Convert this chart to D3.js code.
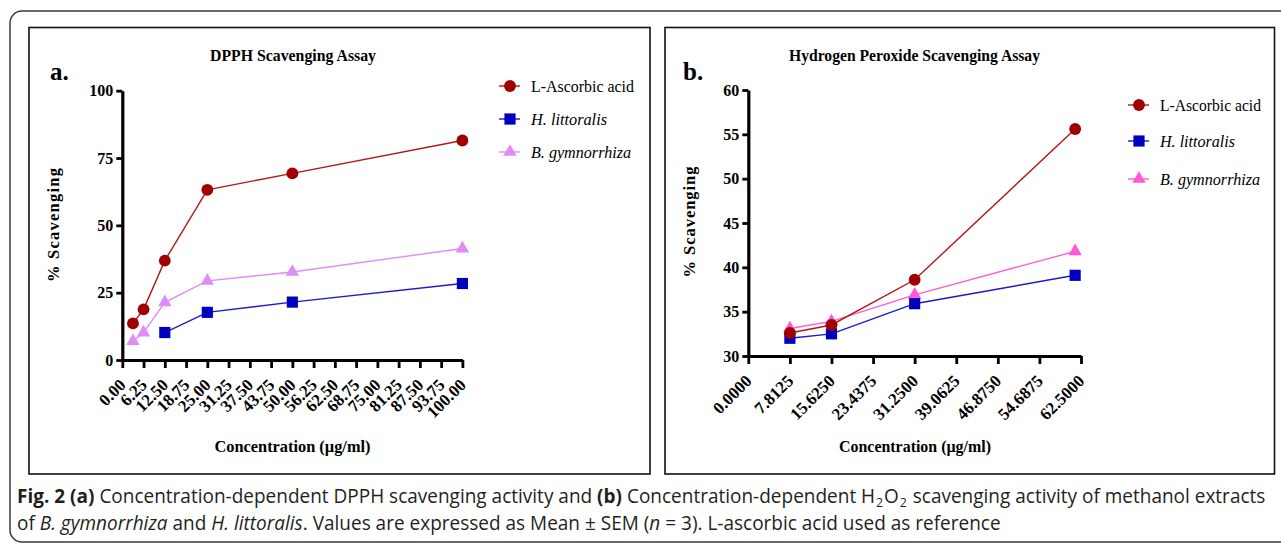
<!DOCTYPE html>
<html>
<head>
<meta charset="utf-8">
<script src="https://cdn.jsdelivr.net/npm/d3@7"></script>
<style>
  html, body { margin: 0; padding: 0; background: #ffffff; }
  svg { display: block; }
</style>
</head>
<body>
<svg id="chart" width="1281" height="544"></svg>
<script>
// ---------------- DATA ----------------
// Panel a: DPPH scavenging assay
const dpphTicks = [0, 6.25, 12.5, 18.75, 25, 31.25, 37.5, 43.75, 50, 56.25, 62.5, 68.75, 75, 81.25, 87.5, 93.75, 100];
const dpphYTicks = [0, 25, 50, 75, 100];
const dpphConcAscorbic = [3.125, 6.25, 12.5, 25, 50, 100];
const dpphAscorbic = [13.6, 18.8, 36.9, 63.2, 69.3, 81.5];
const dpphConcLittoralis = [12.5, 25, 50, 100];
const dpphLittoralis = [10.2, 17.7, 21.5, 28.4];
const dpphConcGymnorrhiza = [3.125, 6.25, 12.5, 25, 50, 100];
const dpphGymnorrhiza = [7.0, 10.2, 21.4, 29.4, 32.7, 41.4];

// Panel b: hydrogen peroxide scavenging assay
const h2o2Ticks = [0, 7.8125, 15.625, 23.4375, 31.25, 39.0625, 46.875, 54.6875, 62.5];
const h2o2YTicks = [30, 35, 40, 45, 50, 55, 60];
const h2o2Conc = [7.8125, 15.625, 31.25, 61.4];
const h2o2Ascorbic = [32.6, 33.5, 38.6, 55.6];
const h2o2Littoralis = [32.0, 32.5, 35.9, 39.1];
const h2o2Gymnorrhiza = [33.1, 33.9, 36.9, 41.8];

const seriesNames = ["L-Ascorbic acid", "H. littoralis", "B. gymnorrhiza"];

// ---------------- DRAW ----------------
const svg = d3.select("#chart");
const FONT = '"Liberation Serif", "Times New Roman", serif';

// outer rounded frame
svg.append("rect")
  .attr("x", 10).attr("y", 11).attr("width", 1300).attr("height", 531)
  .attr("rx", 12).attr("fill", "none").attr("stroke", "#3a3a3a").attr("stroke-width", 1.5);

function markerPath(shape, size) {
  if (shape === "circle") return d3.symbol(d3.symbolCircle, size)();
  if (shape === "square") return d3.symbol(d3.symbolSquare, size)();
  return d3.symbol(d3.symbolTriangle, size)();
}

function panel(cfg) {
  const g = svg.append("g");
  // panel frame
  g.append("rect")
    .attr("x", cfg.box[0]).attr("y", cfg.box[1]).attr("width", cfg.box[2]).attr("height", cfg.box[3])
    .attr("fill", "none").attr("stroke", "#111").attr("stroke-width", 1.6);

  const x = d3.scaleLinear().domain(cfg.xDomain).range(cfg.xRange);
  const y = d3.scaleLinear().domain(cfg.yDomain).range(cfg.yRange);

  // title
  g.append("text").attr("x", cfg.titleX).attr("y", 61)
    .attr("text-anchor", "middle").attr("font-family", FONT).attr("font-weight", "bold")
    .attr("font-size", 17).attr("fill", "#000")
    .attr("textLength", cfg.titleW).attr("lengthAdjust", "spacingAndGlyphs")
    .text(cfg.title);
  // panel letter
  g.append("text").attr("x", cfg.letterX).attr("y", 80)
    .attr("font-family", FONT).attr("font-weight", "bold")
    .attr("font-size", 25).attr("fill", "#000").text(cfg.letter);

  // y axis
  const yAxis = g.append("g").attr("transform", `translate(${cfg.xRange[0]},0)`)
    .call(d3.axisLeft(y).tickValues(cfg.yTicks).tickSize(6).tickSizeOuter(0).tickPadding(3).tickFormat(d3.format("d")));
  yAxis.select(".domain").attr("stroke", "#000").attr("stroke-width", 3.2);
  yAxis.selectAll(".tick line").attr("stroke", "#000").attr("stroke-width", 2.8);
  yAxis.selectAll(".tick text").attr("font-family", FONT).attr("font-weight", "bold")
    .attr("font-size", 16).attr("fill", "#000");

  // x axis
  const xAxis = g.append("g").attr("transform", `translate(0,${cfg.yRange[0]})`)
    .call(d3.axisBottom(x).tickValues(cfg.xTicks).tickSize(8).tickSizeOuter(0).tickFormat(cfg.xFormat));
  xAxis.select(".domain").attr("stroke", "#000").attr("stroke-width", 3.2);
  xAxis.selectAll(".tick line").attr("stroke", "#000").attr("stroke-width", 2.8);
  xAxis.selectAll(".tick text").attr("font-family", FONT).attr("font-weight", "bold")
    .attr("font-size", 17).attr("fill", "#000")
    .attr("text-anchor", "end").attr("dy", 0).attr("y", 0)
    .attr("transform", "translate(4,26) rotate(-45)");

  // axis labels
  g.append("text").attr("x", cfg.xLabelX).attr("y", 452)
    .attr("text-anchor", "middle").attr("font-family", FONT).attr("font-weight", "bold")
    .attr("font-size", 17.5).attr("fill", "#000")
    .attr("textLength", cfg.xLabelW).attr("lengthAdjust", "spacingAndGlyphs")
    .text("Concentration (µg/ml)");
  g.append("text")
    .attr("transform", `translate(${cfg.yLabelX},${cfg.yLabelY}) rotate(-90)`)
    .attr("text-anchor", "middle").attr("font-family", FONT).attr("font-weight", "bold")
    .attr("font-size", 16.5).attr("fill", "#000")
    .attr("textLength", cfg.yLabelW).attr("lengthAdjust", "spacing")
    .text("% Scavenging");

  // series (drawn back to front)
  const order = [2, 1, 0];
  order.forEach(i => {
    const s = cfg.series[i];
    const pts = s.xs.map((xv, j) => [xv, s.ys[j]]);
    g.append("path").datum(pts)
      .attr("fill", "none").attr("stroke", s.line).attr("stroke-width", 1.4)
      .attr("d", d3.line().x(d => x(d[0])).y(d => y(d[1])));
    g.selectAll(null).data(pts).enter().append("path")
      .attr("transform", d => `translate(${x(d[0])},${y(d[1])})`)
      .attr("d", markerPath(s.shape, s.size))
      .attr("fill", s.fill);
  });

  // legend
  cfg.series.forEach((s, i) => {
    const ly = cfg.legendY[i];
    const lg = g.append("g").attr("transform", `translate(${cfg.legendX},${ly})`);
    lg.append("line").attr("x1", -11).attr("x2", 10).attr("y1", 0).attr("y2", 0)
      .attr("stroke", s.line).attr("stroke-width", 1.4);
    lg.append("path").attr("d", markerPath(s.shape, s.size)).attr("fill", s.fill);
    lg.append("text").attr("x", 21).attr("y", 6)
      .attr("font-family", FONT).attr("font-size", 17.5).attr("fill", "#000")
      .attr("font-style", i === 0 ? "normal" : "italic")
      .attr("textLength", cfg.legendW[i]).attr("lengthAdjust", "spacingAndGlyphs")
      .text(seriesNames[i]);
  });
}

panel({
  box: [29, 27.5, 621, 446.5],
  title: "DPPH Scavenging Assay", titleX: 293, titleW: 166,
  letter: "a.", letterX: 50,
  xDomain: [0, 100], xRange: [122.3, 462.4],
  yDomain: [0, 100], yRange: [360, 90.7],
  xTicks: dpphTicks, yTicks: dpphYTicks, xFormat: d3.format(".2f"),
  xLabelX: 292.5, xLabelW: 156, yLabelX: 59, yLabelY: 225, yLabelW: 114,
  legendX: 510, legendY: [86, 119, 152], legendW: [103, 76, 100],
  series: [
    { xs: dpphConcAscorbic, ys: dpphAscorbic, shape: "circle", size: 110, fill: "#a00000", line: "#b01818" },
    { xs: dpphConcLittoralis, ys: dpphLittoralis, shape: "square", size: 125, fill: "#0000bf", line: "#1a1acc" },
    { xs: dpphConcGymnorrhiza, ys: dpphGymnorrhiza, shape: "triangle", size: 78, fill: "#e08cf8", line: "#e08cf8" }
  ]
});

panel({
  box: [665, 27.5, 609.5, 446.5],
  title: "Hydrogen Peroxide Scavenging Assay", titleX: 914.5, titleW: 251,
  letter: "b.", letterX: 683,
  xDomain: [0, 62.5], xRange: [748.3, 1081],
  yDomain: [30, 60], yRange: [356, 90],
  xTicks: h2o2Ticks, yTicks: h2o2YTicks, xFormat: d3.format(".4f"),
  xLabelX: 915, xLabelW: 152, yLabelX: 695, yLabelY: 222, yLabelW: 111,
  legendX: 1139, legendY: [105, 141, 179], legendW: [101, 75, 100],
  series: [
    { xs: h2o2Conc, ys: h2o2Ascorbic, shape: "circle", size: 110, fill: "#a00000", line: "#b01818" },
    { xs: h2o2Conc, ys: h2o2Littoralis, shape: "square", size: 125, fill: "#0000bf", line: "#1a1acc" },
    { xs: h2o2Conc, ys: h2o2Gymnorrhiza, shape: "triangle", size: 78, fill: "#ff5ad6", line: "#ff5ad6" }
  ]
});

// ---------------- CAPTION ----------------
const CAP = '"Open Sans", "Noto Sans", sans-serif';
const capColor = "#231f20";
function caption(parts) {
  const t = svg.append("text").attr("x", 0).attr("y", 0)
    .attr("font-family", CAP).attr("font-size", 20).attr("fill", capColor);
  parts.forEach(p => {
    const ts = t.append("tspan").text(p.t);
    if (p.b) ts.attr("font-weight", "bold");
    if (p.i) ts.attr("font-style", "italic");
    if (p.sub) ts.attr("font-size", 13).attr("baseline-shift", "-4.5").attr("dx", 1);
    if (p.gap) ts.attr("dx", 1);
  });
  return t;
}
const line1 = caption([
  { t: "Fig. 2 (a)", b: true },
  { t: " Concentration-dependent DPPH scavenging activity and " },
  { t: "(b)", b: true },
  { t: " Concentration-dependent H" },
  { t: "2", sub: true },
  { t: "O", gap: true },
  { t: "2", sub: true },
  { t: " scavenging activity of methanol extracts", gap: true }
]);
const line2 = caption([
  { t: "of " },
  { t: "B. gymnorrhiza", i: true },
  { t: " and " },
  { t: "H. littoralis", i: true },
  { t: ". Values are expressed as Mean ± SEM (" },
  { t: "n", i: true },
  { t: " = 3). L-ascorbic acid used as reference" }
]);
const w1 = line1.node().getComputedTextLength();
const sx = 1245 / w1;
line1.attr("transform", `translate(17,503) scale(${sx},1)`);
line2.attr("transform", `translate(17,530) scale(${sx},1)`);
</script>
</body>
</html>
